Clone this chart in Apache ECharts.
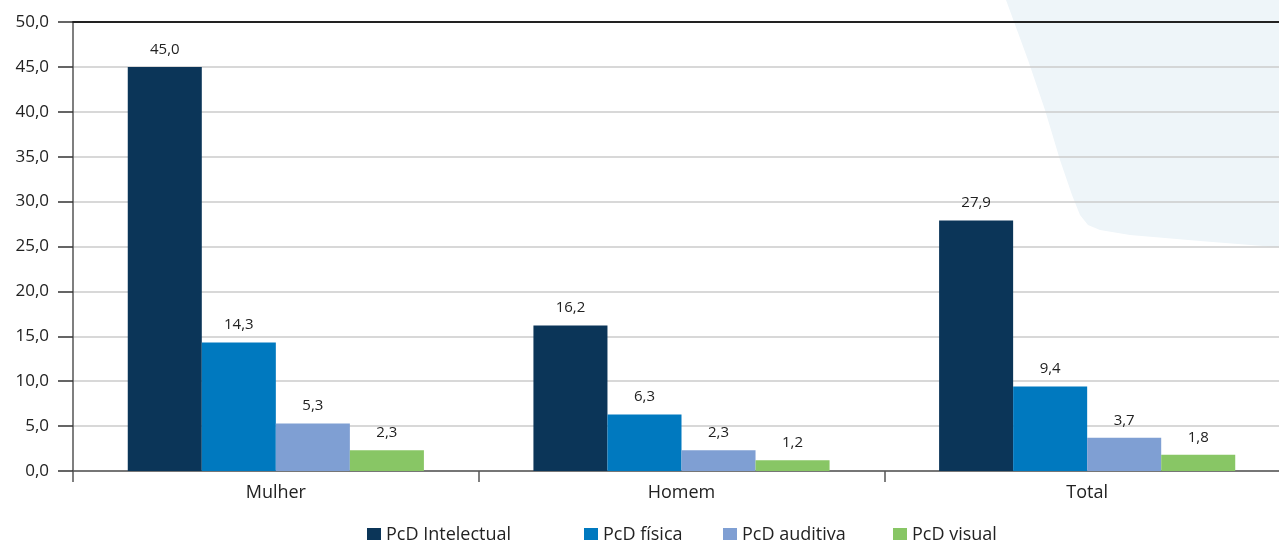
<!DOCTYPE html>
<html>
<head>
<meta charset="utf-8">
<script src="https://cdn.jsdelivr.net/npm/echarts@6/dist/echarts.min.js"></script>
<style>
  html, body { margin: 0; padding: 0; background: #fff; }
  #chart { width: 1279px; height: 540px; }
</style>
</head>
<body>
<div id="chart"></div>
<script>
const categories = ['Mulher', 'Homem', 'Total']
const seriesNames = ['PcD Intelectual', 'PcD física', 'PcD auditiva', 'PcD visual']
const intelectual = [45.0, 16.2, 27.9]
const fisica = [14.3, 6.3, 9.4]
const auditiva = [5.3, 2.3, 3.7]
const visual = [2.3, 1.2, 1.8]

const COLORS = ['#0b3558', '#0079bf', '#7f9fd3', '#88c665']
const FONT = '"Open Sans", "Noto Sans", sans-serif'
const LEGEND_LEFT = [362, 579, 718, 888]
const fmt = (v) => Number(v).toFixed(1).replace('.', ',')

const chart = echarts.init(document.getElementById('chart'))

const makeSeries = (name, data, color) => ({
  name,
  type: 'bar',
  data,
  barGap: '0%',
  barCategoryGap: '27%',
  itemStyle: { color },
  label: {
    show: true,
    position: 'top',
    distance: 10,
    formatter: (p) => fmt(p.value),
    color: '#222',
    fontSize: 15,
    fontFamily: FONT,
  },
})

// decorative backdrop shape in the upper right
const backdrop = [
  [1006, 0], [1290, 0], [1290, 248], [1200, 241], [1130, 235], [1100, 230],
  [1088, 225], [1080, 215], [1072, 195], [1060, 160], [1045, 110], [1028, 60], [1006, 0],
]

chart.setOption({
  animation: false,
  graphic: [
    {
      type: 'polygon',
      z: -10,
      silent: true,
      shape: { points: backdrop },
      style: { fill: '#eef5f9' },
    },
  ],
  legend: seriesNames.map((name, i) => ({
    data: [name],
    left: LEGEND_LEFT[i],
    top: 521,
    itemWidth: 14,
    itemHeight: 14,
    itemGap: 0,
    icon: 'rect',
    textStyle: { color: '#222', fontSize: 18, fontFamily: FONT },
  })),
  grid: {
    left: 73,
    top: 22,
    height: 449,
    width: 1217,
    containLabel: false,
    outerBoundsMode: 'none',
  },
  xAxis: [
    {
      type: 'category',
      data: categories,
      axisLine: { lineStyle: { color: '#555', width: 1.5 } },
      axisTick: { show: true, length: 11, lineStyle: { color: '#555', width: 1.5 } },
      axisLabel: { color: '#222', fontSize: 18, fontFamily: FONT, margin: 13 },
    },
    {
      type: 'category',
      position: 'top',
      data: categories,
      axisLine: { lineStyle: { color: '#222', width: 2 } },
      axisTick: { show: false },
      axisLabel: { show: false },
    },
  ],
  yAxis: {
    type: 'value',
    min: 0,
    max: 50,
    interval: 5,
    axisLine: { show: true, lineStyle: { color: '#555', width: 1.5 } },
    axisTick: { show: true, inside: false, length: 15, lineStyle: { color: '#333', width: 1.5 } },
    axisLabel: {
      color: '#222',
      fontSize: 17,
      fontFamily: FONT,
      margin: 24,
      formatter: (v) => fmt(v),
    },
    splitLine: { show: true, lineStyle: { color: '#cbcbcb', width: 1.5 } },
  },
  series: [
    makeSeries(seriesNames[0], intelectual, COLORS[0]),
    makeSeries(seriesNames[1], fisica, COLORS[1]),
    makeSeries(seriesNames[2], auditiva, COLORS[2]),
    makeSeries(seriesNames[3], visual, COLORS[3]),
  ],
})
</script>
</body>
</html>
